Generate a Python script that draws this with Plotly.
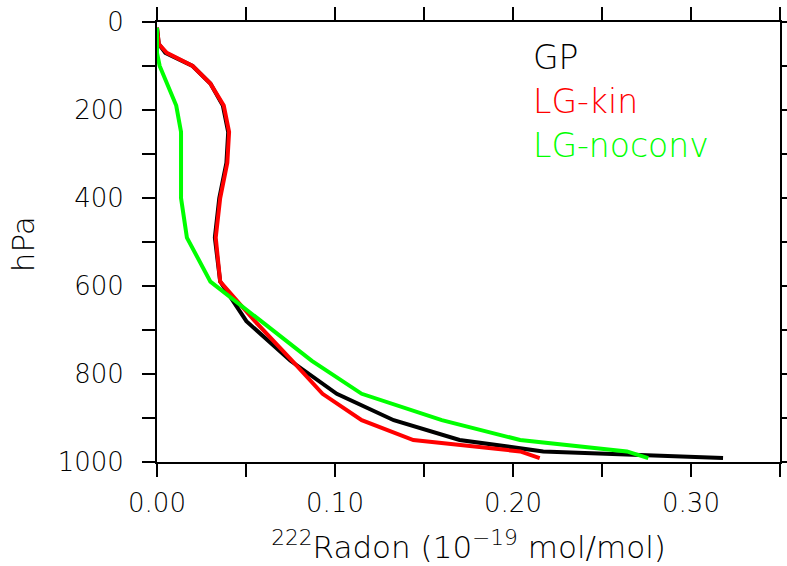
import plotly.graph_objects as go

pressure = [13, 30, 50, 70, 100, 140, 190, 250, 320, 400, 490, 590, 680, 770, 845, 905, 950, 976, 991]

gp = [0.000, 0.0002, 0.001, 0.0047, 0.020, 0.030, 0.037, 0.040, 0.039, 0.035, 0.0325, 0.0355,
      0.0502, 0.075, 0.101, 0.133, 0.170, 0.217, 0.318]
lg_kin = [0.000, 0.0002, 0.001, 0.0055, 0.020, 0.030, 0.0375, 0.0405, 0.0395, 0.0355, 0.033, 0.0355,
          0.055, 0.076, 0.093, 0.115, 0.144, 0.204, 0.215]
lg_noconv = [0.000, 0.000, 0.000, 0.000, 0.0015, 0.0055, 0.0108, 0.0135, 0.0135, 0.0135, 0.0168, 0.030,
             0.0585, 0.087, 0.115, 0.160, 0.204, 0.264, 0.276]

series_names = ["GP", "LG-kin", "LG-noconv"]
series_colors = ["#000000", "#FF0000", "#00FF00"]
legend_y = [80, 180, 280]

x_tickvals = [0.0, 0.05, 0.10, 0.15, 0.20, 0.25, 0.30, 0.35]
x_ticktext = ["0.00", "", "0.10", "", "0.20", "", "0.30", ""]
y_tickvals = [0, 100, 200, 300, 400, 500, 600, 700, 800, 900, 1000]
y_ticktext = ["0", "", "200", "", "400", "", "600", "", "800", "", "1000"]

FONT = "DejaVu Sans"
W = 300

fig = go.Figure()
for name, vals, col in zip(series_names, [gp, lg_kin, lg_noconv], series_colors):
    fig.add_trace(go.Scatter(x=vals, y=pressure, mode="lines", name=name,
                             line=dict(color=col, width=4), showlegend=False))

for name, col, yy in zip(series_names, series_colors, legend_y):
    fig.add_annotation(x=0.21, y=yy, xref="x", yref="y", text=name, showarrow=False,
                       xanchor="left", yanchor="middle",
                       font=dict(family=FONT, size=33, color=col, weight=W))

# y-axis title
fig.add_annotation(x=-0.215, y=0.495, xref="paper", yref="paper", text="hPa", showarrow=False,
                   textangle=-90, xanchor="center", yanchor="middle",
                   font=dict(family=FONT, size=31, color="black", weight=W))

axis_common = dict(showline=True, linecolor="black", linewidth=2, mirror="allticks",
                   ticks="outside", ticklen=13, tickwidth=2, tickcolor="black",
                   showgrid=False, zeroline=False, automargin=False, ticklabeloverflow="allow",
                   tickfont=dict(family=FONT, size=26, color="black", weight=W))

fig.update_xaxes(range=[0, 0.35], tickmode="array", tickvals=x_tickvals, ticktext=x_ticktext,
                 title=dict(text="<sup>222</sup>Radon (10<sup>\u221219</sup> mol/mol)",
                            font=dict(family=FONT, size=31, color="black", weight=W), standoff=19),
                 ticklabelstandoff=4, **axis_common)
fig.update_yaxes(range=[1000, 0], tickmode="array", tickvals=y_tickvals, ticktext=y_ticktext,
                 ticklabelstandoff=13, **axis_common)

fig.update_layout(width=787, height=566, margin=dict(l=157, r=7, t=22, b=104),
                  plot_bgcolor="white", paper_bgcolor="white")

fig.write_html("out.html", config={"displayModeBar": False},
               post_script="document.body.style.margin='0';document.body.style.overflow='hidden';")
